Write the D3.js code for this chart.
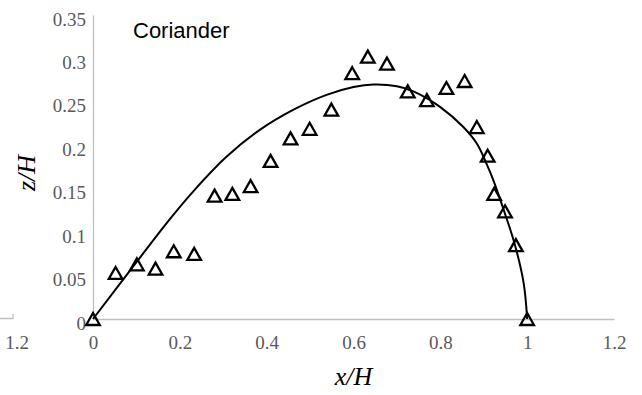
<!DOCTYPE html>
<html>
<head>
<meta charset="utf-8">
<script src="https://cdn.jsdelivr.net/npm/d3@7"></script>
<style>
  html, body { margin: 0; padding: 0; background: #fff; }
  svg { display: block; }
</style>
</head>
<body>
<svg id="chart" width="642" height="395"></svg>
<script>
// Measured profile points (x/H, z/H)
const measX = [0, 0.052, 0.101, 0.144, 0.186, 0.233, 0.280, 0.321, 0.363, 0.409, 0.455, 0.499, 0.549,
               0.597, 0.633, 0.677, 0.725, 0.769, 0.814, 0.856, 0.884, 0.909, 0.924, 0.949, 0.974, 1.0];
const measZ = [0, 0.053, 0.063, 0.058, 0.078, 0.075, 0.142, 0.144, 0.153, 0.182, 0.208, 0.219, 0.241,
               0.283, 0.302, 0.294, 0.262, 0.252, 0.266, 0.274, 0.221, 0.188, 0.144, 0.124, 0.085, 0];

// Fitted trajectory (x/H, z/H)
const fitX = [0, 0.101, 0.177, 0.231, 0.308, 0.385, 0.462, 0.538, 0.600, 0.646, 0.700, 0.738,
              0.800, 0.853, 0.884, 0.907, 0.922, 0.945, 0.972, 0.992, 1.0];
const fitZ = [0, 0.066, 0.115, 0.147, 0.187, 0.218, 0.241, 0.258, 0.267, 0.270, 0.268, 0.262,
              0.244, 0.221, 0.202, 0.178, 0.160, 0.127, 0.085, 0.041, 0];

const xTicks = [0, 0.2, 0.4, 0.6, 0.8, 1, 1.2];
const xTickLabels = ["0", "0.2", "0.4", "0.6", "0.8", "1", "1.2"];
const yTicks = [0, 0.05, 0.1, 0.15, 0.2, 0.25, 0.3, 0.35];
const yTickLabels = ["0", "0.05", "0.1", "0.15", "0.2", "0.25", "0.3", "0.35"];

const svg = d3.select("#chart");
const x = d3.scaleLinear().domain([0, 1.2]).range([93, 614]);
const y = d3.scaleLinear().domain([0, 0.35]).range([319, 15]);

const tickFont = "'Liberation Serif', 'Times New Roman', serif";
const tickColor = "#595959";
const axisColor = "#bfbfbf";

// x axis
const gx = svg.append("g")
  .attr("transform", `translate(0,${y(0)})`)
  .call(d3.axisBottom(x).tickValues(xTicks)
    .tickFormat((d, i) => xTickLabels[i]).tickSize(0).tickPadding(16.5));
gx.attr("font-family", tickFont);
gx.select(".domain").attr("stroke", axisColor).attr("stroke-width", 1.3);
gx.selectAll("text").attr("font-family", tickFont).attr("font-size", 19).attr("fill", tickColor);

// y axis
const gy = svg.append("g")
  .attr("transform", `translate(${x(0)},0)`)
  .call(d3.axisLeft(y).tickValues(yTicks)
    .tickFormat((d, i) => yTickLabels[i]).tickSize(0).tickPadding(7));
gy.attr("font-family", tickFont);
gy.select(".domain").attr("stroke", axisColor).attr("stroke-width", 1.3);
gy.selectAll("text").attr("font-family", tickFont).attr("font-size", 19)
  .attr("fill", tickColor).attr("dy", "0.53em");

// trailing end of the neighbouring panel's horizontal axis
svg.append("path")
  .attr("d", `M0,${y(0) - 0.5}H13V${y(0) - 5}`)
  .attr("fill", "none").attr("stroke", axisColor).attr("stroke-width", 1.3);
svg.append("text")
  .attr("x", 17).attr("y", 349)
  .attr("text-anchor", "middle")
  .attr("font-family", tickFont).attr("font-size", 19).attr("fill", tickColor)
  .text("1.2");

// fitted curve
const fitData = fitX.map((v, i) => [v, fitZ[i]]);
svg.append("path")
  .datum(fitData)
  .attr("fill", "none")
  .attr("stroke", "#000")
  .attr("stroke-width", 2)
  .attr("d", d3.line().x(d => x(d[0])).y(d => y(d[1])).curve(d3.curveCatmullRom.alpha(0.5)));

// measured points as open triangles
const tri = "M0,-6L6.8,6L-6.8,6Z";
svg.append("g").selectAll("path")
  .data(measX.map((v, i) => [v, measZ[i]]))
  .join("path")
  .attr("transform", d => `translate(${x(d[0])},${y(d[1])})`)
  .attr("d", tri)
  .attr("fill", "none")
  .attr("stroke", "#000")
  .attr("stroke-width", 2.3)
  .attr("stroke-linejoin", "miter");

// series title
svg.append("text")
  .attr("x", 133).attr("y", 38)
  .attr("font-family", "'Liberation Sans', Arial, sans-serif")
  .attr("font-size", 22)
  .attr("fill", "#000")
  .text("Coriander");

// axis titles
svg.append("text")
  .attr("x", (x(0) + x(1.2)) / 2).attr("y", 385)
  .attr("text-anchor", "middle")
  .attr("font-family", tickFont).attr("font-style", "italic")
  .attr("font-size", 26).attr("fill", "#000")
  .text("x/H");

svg.append("text")
  .attr("transform", "translate(35,173) rotate(-90)")
  .attr("text-anchor", "middle")
  .attr("font-family", tickFont).attr("font-style", "italic")
  .attr("font-size", 26).attr("fill", "#000")
  .text("z/H");
</script>
</body>
</html>
